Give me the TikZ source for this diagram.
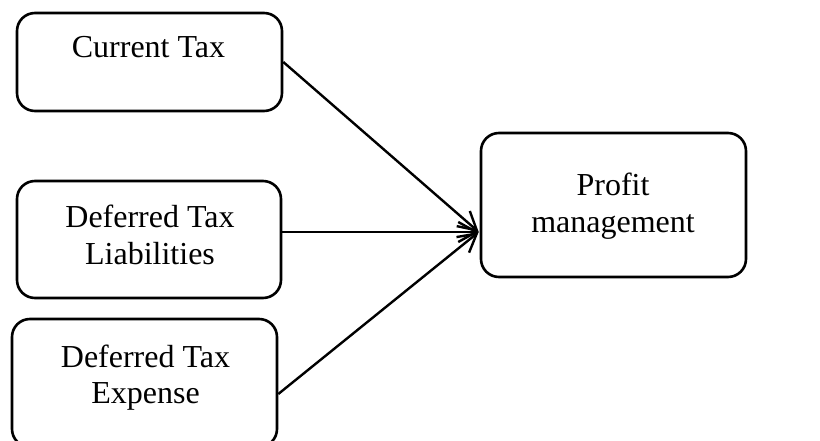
\documentclass[tikz,border=0pt]{standalone}
\usepackage{fontspec}
\setmainfont{Liberation Serif}
\usetikzlibrary{arrows.meta,calc}
\begin{document}
\begin{tikzpicture}[x=1pt,y=-1pt,
  box/.style={draw=black,line width=2.6pt,rounded corners=18pt,inner sep=0pt,fill=white},
  txt/.style={anchor=base,inner sep=0pt,font=\fontsize{32}{37}\selectfont},
  conn/.style={line width=2.4pt,-{Straight Barb[length=18pt,width=20pt,line width=2.4pt]}}]
\useasboundingbox[fill=white] (0,0) rectangle (820,441);
\node[box,minimum width=265pt,minimum height=98pt] (ct) at (149.5,62) {};
\node[box,minimum width=264pt,minimum height=117pt] (dtl) at (149,239.5) {};
\node[box,minimum width=265pt,minimum height=128pt] (dte) at (144.5,383) {};
\node[box,minimum width=265pt,minimum height=144pt] (pm) at (613.5,205) {};
\node[txt] (t1) at (148.5,58) {Current Tax};
\node[txt] (t2a) at (150,227) {Deferred Tax};
\node[txt] (t2b) at (150,265) {Liabilities};
\node[txt] (t3a) at (145.5,367) {Deferred Tax};
\node[txt] (t3b) at (145.5,403) {Expense};
\node[txt] (t4a) at (613,196) {Profit};
\node[txt] (t4b) at (613,233) {management};
\coordinate (tip) at ($(pm.west)+(-1,27)$);
\coordinate (s2) at (dtl.east |- tip);
\coordinate (s3) at ($(dte.east)+(0,11)$);
\draw[conn] (ct.east) -- (tip);
\draw[conn] (s2) -- (tip);
\draw[conn] (s3) -- (tip);
\end{tikzpicture}
\end{document}
